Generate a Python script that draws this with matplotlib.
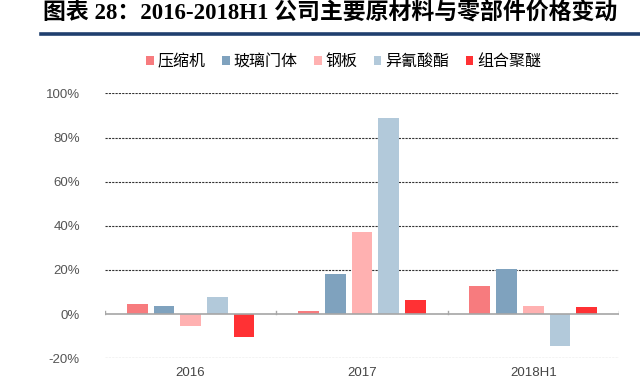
import numpy as np
import matplotlib.pyplot as plt
from matplotlib.lines import Line2D

plt.rcParams['font.family'] = ['Noto Sans CJK SC', 'DejaVu Sans']

categories = ["2016", "2017", "2018H1"]
series = ["压缩机", "玻璃门体", "钢板", "异氰酸酯", "组合聚醚"]
compressor = [4.7, 1.6, 12.7]
glass_door = [3.9, 18.2, 20.6]
steel = [-5.2, 37.3, 3.5]
isocyanate = [7.7, 88.8, -14.4]
polyether = [-10.3, 6.4, 3.0]
values = [compressor, glass_door, steel, isocyanate, polyether]
colors = ["#F77B7E", "#7FA2BE", "#FFB1B1", "#B2C9DA", "#FF3134"]

fig = plt.figure(figsize=(6.4, 3.89), dpi=100)
ax = fig.add_axes([0.164, 0.079, 0.803, 0.681])

x = np.arange(len(categories))
width = 0.121
step = 0.156
for i, (name, vals, c) in enumerate(zip(series, values, colors)):
    ax.bar(x + (i - 2) * step, vals, width, color=c, label=name, zorder=3)

ax.set_xlim(-0.5, 2.5)
ax.set_ylim(-20, 100)
yt = np.arange(-20, 101, 20)
ax.set_yticks(yt)
ax.set_yticklabels([f"{v}%" for v in yt], family="Liberation Sans",
                   fontsize=9.5, color="#555555")
for v in yt:
    if v != 0:
        ax.axhline(v, color="#333333", lw=0.8, ls=(0, (2, 1)), zorder=1)
ax.axhline(0, color="#A6A6A6", lw=1.2, zorder=4)
for b in [-0.5, 0.5, 1.5, 2.5]:
    ax.plot([b, b], [0, 1.5], color="#A6A6A6", lw=1, zorder=4)

ax.set_xticks(x)
ax.set_xticklabels(categories, family="Liberation Sans", fontsize=9.5,
                   color="#444444")
ax.tick_params(axis="both", length=0, pad=6)
ax.tick_params(axis="y", pad=18)
for s in ax.spines.values():
    s.set_visible(False)

leg = ax.legend(loc="center", bbox_to_anchor=(0.465, 1.12), ncol=5,
                frameon=False, fontsize=11.5, handlelength=0.45,
                handleheight=0.45, handletextpad=0.25, columnspacing=1.05)

fig.text(0.067, 0.965, "图表 28：2016-2018H1 公司主要原材料与零部件价格变动",
         family=["Liberation Serif", "Noto Sans CJK SC"],
         fontsize=16.5, fontweight="bold", va="center", ha="left")
fig.add_artist(Line2D([0.064, 1.0], [0.912, 0.912], color="#1F3F6E", lw=2.6))

fig.savefig("out.png", dpi=100)
